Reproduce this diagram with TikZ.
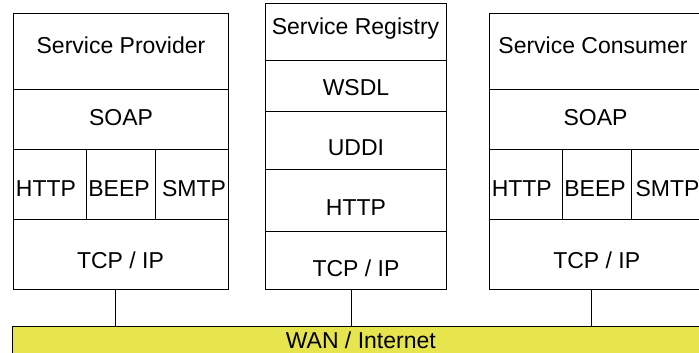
\documentclass[tikz,border=0pt]{standalone}
\usepackage{fontspec}
\setmainfont{Liberation Sans}
\definecolor{wanyellow}{RGB}{231,229,77}
\begin{document}
\begin{tikzpicture}[x=1pt,y=-1pt,
  cell/.style={draw=black, line width=0.9pt, inner sep=0pt, outer sep=0pt, anchor=north west, fill=white},
  lbl/.style={anchor=base, inner sep=0pt, font=\fontsize{23}{27}\selectfont},
  link/.style={draw=black, line width=0.9pt}]
\useasboundingbox (0,0) rectangle (699,353);
\clip (0,0) rectangle (699,353);
% WAN
\node[cell, fill=wanyellow, minimum width=698pt, minimum height=40pt] (wan) at (12,326.7) {};
% Left column: Service Provider
\node[cell, minimum width=215pt, minimum height=75.7pt] (pname) at (13.5,13.3) {};
\node[cell, minimum width=215pt, minimum height=60pt] (psoap) at (13.5,89) {};
\node[cell, minimum width=73.2pt, minimum height=70.3pt] (phttp) at (13.5,149) {};
\node[cell, minimum width=68.3pt, minimum height=70.3pt] (pbeep) at (86.7,149) {};
\node[cell, minimum width=73.5pt, minimum height=70.3pt] (psmtp) at (155,149) {};
\node[cell, minimum width=215pt, minimum height=70pt] (ptcp) at (13.5,219.3) {};
% Middle column: Service Registry
\node[cell, minimum width=181pt, minimum height=56.7pt] (rname) at (265.7,3.3) {};
\node[cell, minimum width=181pt, minimum height=51.7pt] (rwsdl) at (265.7,60) {};
\node[cell, minimum width=181pt, minimum height=57.3pt] (ruddi) at (265.7,111.7) {};
\node[cell, minimum width=181pt, minimum height=62.7pt] (rhttp) at (265.7,169) {};
\node[cell, minimum width=181pt, minimum height=57.6pt] (rtcp) at (265.7,231.7) {};
% Right column: Service Consumer
\node[cell, minimum width=215pt, minimum height=75.7pt] (cname) at (489.3,13.3) {};
\node[cell, minimum width=215pt, minimum height=60pt] (csoap) at (489.3,89) {};
\node[cell, minimum width=73.4pt, minimum height=70.3pt] (chttp) at (489.3,149) {};
\node[cell, minimum width=68.3pt, minimum height=70.3pt] (cbeep) at (562.7,149) {};
\node[cell, minimum width=73.3pt, minimum height=70.3pt] (csmtp) at (631,149) {};
\node[cell, minimum width=215pt, minimum height=70pt] (ctcp) at (489.3,219.3) {};
% Labels
\node[lbl] (tpname) at (121,53.3) {Service Provider};
\node[lbl] (tpsoap) at (121,125) {SOAP};
\node[lbl] (tphttp) at (46,196) {HTTP};
\node[lbl] (tpbeep) at (119,196) {BEEP};
\node[lbl] (tpsmtp) at (194,196) {SMTP};
\node[lbl] (tptcp) at (120.5,268.3) {TCP / IP};
\node[lbl] (trname) at (355.5,35) {Service Registry};
\node[lbl] (trwsdl) at (356,95.7) {WSDL};
\node[lbl] (truddi) at (356,155) {UDDI};
\node[lbl] (trhttp) at (356,215.7) {HTTP};
\node[lbl] (trtcp) at (356,276.7) {TCP / IP};
\node[lbl] (tcname) at (593,53.3) {Service Consumer};
\node[lbl] (tcsoap) at (595.5,125) {SOAP};
\node[lbl] (tchttp) at (521.8,196) {HTTP};
\node[lbl] (tcbeep) at (595,196) {BEEP};
\node[lbl] (tcsmtp) at (667.5,196) {SMTP};
\node[lbl] (tctcp) at (596.7,268.3) {TCP / IP};
\node[lbl] (twan) at (360.8,348.3) {WAN / Internet};
% Connectors
\coordinate (pdrop) at (115.3,289.3);
\coordinate (rdrop) at (351,289.3);
\coordinate (cdrop) at (591.3,289.3);
\draw[link] (pdrop) -- (pdrop |- wan.north);
\draw[link] (rdrop) -- (rdrop |- wan.north);
\draw[link] (cdrop) -- (cdrop |- wan.north);
\end{tikzpicture}
\end{document}
